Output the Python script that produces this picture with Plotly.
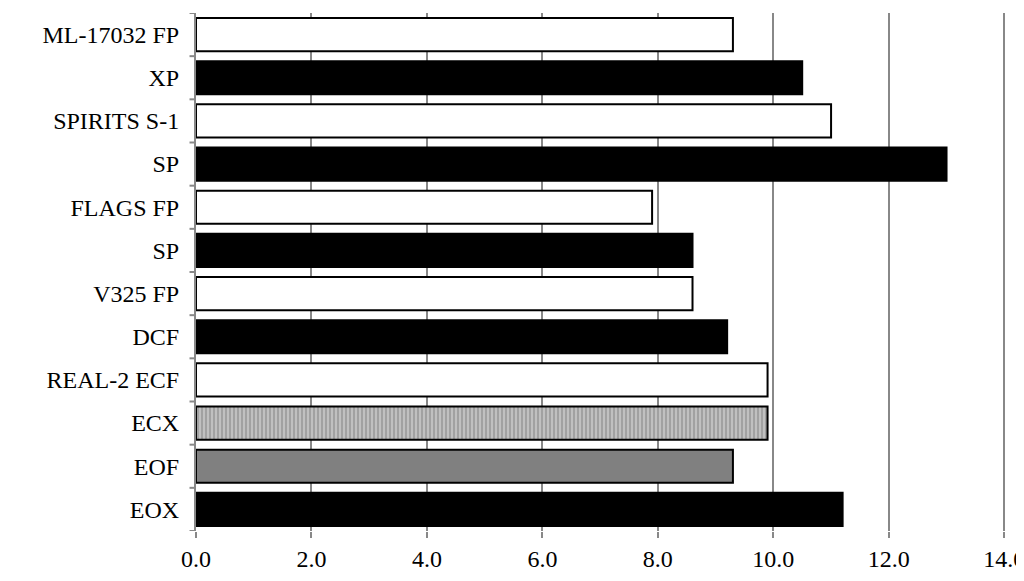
import plotly.graph_objects as go

labels = ["EOX", "EOF", "ECX", "REAL-2 ECF", "DCF", "V325 FP", "SP", "FLAGS FP", "SP", "SPIRITS S-1", "XP", "ML-17032 FP"]
values = [11.2, 9.3, 9.9, 9.9, 9.2, 8.6, 8.6, 7.9, 13.0, 11.0, 10.5, 9.3]
colors = ["#000000", "#808080", "#c0c0c0", "#ffffff", "#000000", "#ffffff", "#000000", "#ffffff", "#000000", "#ffffff", "#000000", "#ffffff"]
patterns = ["", "", "|", "", "", "", "", "", "", "", "", ""]
xticks = [0, 2, 4, 6, 8, 10, 12, 14]

pos = list(range(len(labels)))
fig = go.Figure(go.Bar(
    x=values, y=pos, orientation="h", width=0.77,
    marker=dict(color=colors, line=dict(color="#000", width=2),
                pattern=dict(shape=patterns, fgcolor="#9a9a9a", bgcolor="#c4c4c4", size=4, solidity=0.25)),
))
fig.update_layout(
    width=1024, height=581, margin=dict(l=188, r=26, t=5, b=58, autoexpand=False),
    plot_bgcolor="white", paper_bgcolor="white", showlegend=False,
    font=dict(family="Liberation Serif", size=24, color="#000"),
)
fig.update_xaxes(range=[0, 14.03], tickvals=xticks, ticktext=[f"{v:.1f}" for v in xticks],
                 showgrid=True, gridcolor="#888", gridwidth=2, zeroline=False, automargin=False,
                 showline=False, ticks="outside", tickcolor="#888", ticklen=6, tickwidth=2)
fig.update_yaxes(range=[-0.5, len(labels) - 0.5], tickvals=pos, ticktext=labels, automargin=False,
                 showgrid=False, zeroline=False, showline=True, linecolor="#888", linewidth=2,
                 ticks="", ticklabelstandoff=10)
for i in range(len(labels) + 1):
    fig.add_shape(type="line", xref="paper", yref="y", x0=-0.008, x1=0, y0=i - 0.5, y1=i - 0.5,
                  line=dict(color="#888", width=2))
fig.write_html("out.html")
